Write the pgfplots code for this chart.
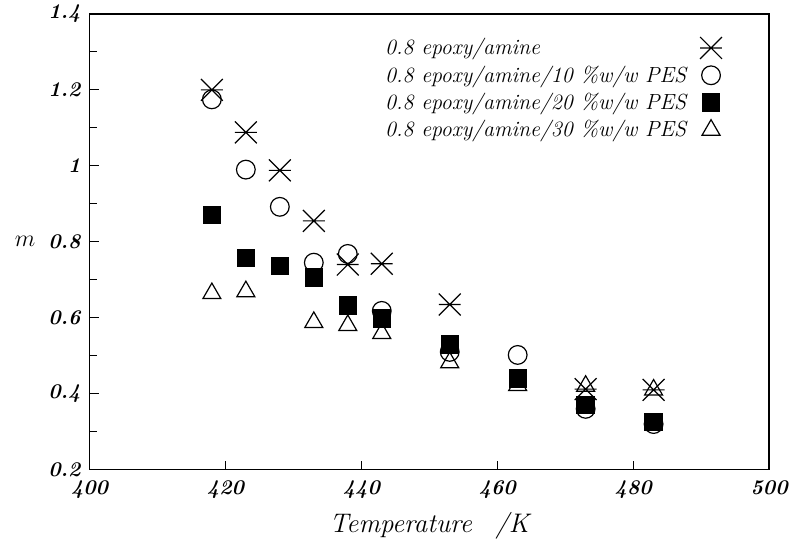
\documentclass[border=0pt]{standalone}
\usepackage{pgfplots}
\pgfplotsset{compat=1.18}
\pgfdeclareplotmark{xbar}{%
  \pgfpathmoveto{\pgfqpoint{-\pgfplotmarksize}{-\pgfplotmarksize}}%
  \pgfpathlineto{\pgfqpoint{\pgfplotmarksize}{\pgfplotmarksize}}%
  \pgfpathmoveto{\pgfqpoint{-\pgfplotmarksize}{\pgfplotmarksize}}%
  \pgfpathlineto{\pgfqpoint{\pgfplotmarksize}{-\pgfplotmarksize}}%
  \pgfpathmoveto{\pgfqpoint{-\pgfplotmarksize}{0pt}}%
  \pgfpathlineto{\pgfqpoint{\pgfplotmarksize}{0pt}}%
  \pgfusepathqstroke}
\begin{document}
\begin{tikzpicture}
\begin{axis}[
  name=ax,
  scale only axis,
  width=341.5pt, height=229pt,
  xmin=400, xmax=500, ymin=0.2, ymax=1.4,
  xtick={400,420,...,500},
  ytick={0.2,0.4,...,1.4},
  minor y tick num=1,
  tick align=inside,
  xtick pos=left, ytick pos=left,
  major tick length=4.5pt, minor tick length=3.5pt,
  /pgf/number format/assume math mode=true,
  tick label style={font=\fontsize{10.5}{12}\selectfont\bfseries\itshape},
  yticklabel style={xshift=-1pt},
  xticklabel style={yshift=-2pt},
  xlabel={Temperature\ \ \,/K},
  ylabel={$m$},
  label style={font=\fontsize{13.5}{15}\selectfont\itshape},
  ylabel style={rotate=-90, at={(axis description cs:0,0.5)}, anchor=east, xshift=-27pt,
    inner sep=0pt, font=\fontsize{12}{14}\selectfont},
  xlabel style={yshift=0pt},
  legend style={draw=none, fill=none, at={(0.94,0.965)}, anchor=north east,
    font=\fontsize{11}{13}\selectfont\itshape, row sep=0pt, column sep=5pt},
  legend cell align=left,
  legend plot pos=right,
  axis line style={line width=0.7pt},
  every tick/.style={black, line width=0.5pt},
]
\addplot[only marks, mark=xbar, mark size=5.5pt, mark options={line width=0.6pt}] coordinates {
(418,1.200) (423,1.088) (428,0.988) (433,0.855) (438,0.740) (443,0.742)
(453,0.635) (473,0.412) (483,0.410)};
\addlegendentry{0.8 epoxy/amine}
\addplot[only marks, mark=o, mark size=4.7pt, mark options={line width=0.6pt, fill=white}] coordinates {
(418,1.175) (423,0.990) (428,0.892) (433,0.745) (438,0.768) (443,0.618)
(453,0.510) (463,0.502) (473,0.360) (483,0.320)};
\addlegendentry{0.8 epoxy/amine/10 \%w/w PES}
\addplot[only marks, mark=square*, mark size=4.4pt, mark options={black}] coordinates {
(418,0.871) (423,0.757) (428,0.737) (433,0.706) (438,0.632) (443,0.598)
(453,0.530) (463,0.440) (473,0.370) (483,0.326)};
\addlegendentry{0.8 epoxy/amine/20 \%w/w PES}
\addplot[only marks, mark=triangle, mark size=5.2pt, mark options={line width=0.6pt}] coordinates {
(418,0.664) (423,0.669) (433,0.588) (438,0.580) (443,0.559)
(453,0.482) (463,0.422) (473,0.420) (483,0.410)};
\addlegendentry{0.8 epoxy/amine/30 \%w/w PES}
\end{axis}
\pgfresetboundingbox
\useasboundingbox ([shift={(-45pt,-36pt)}]ax.south west) rectangle ([shift={(11pt,7pt)}]ax.north east);
\end{tikzpicture}
\end{document}
